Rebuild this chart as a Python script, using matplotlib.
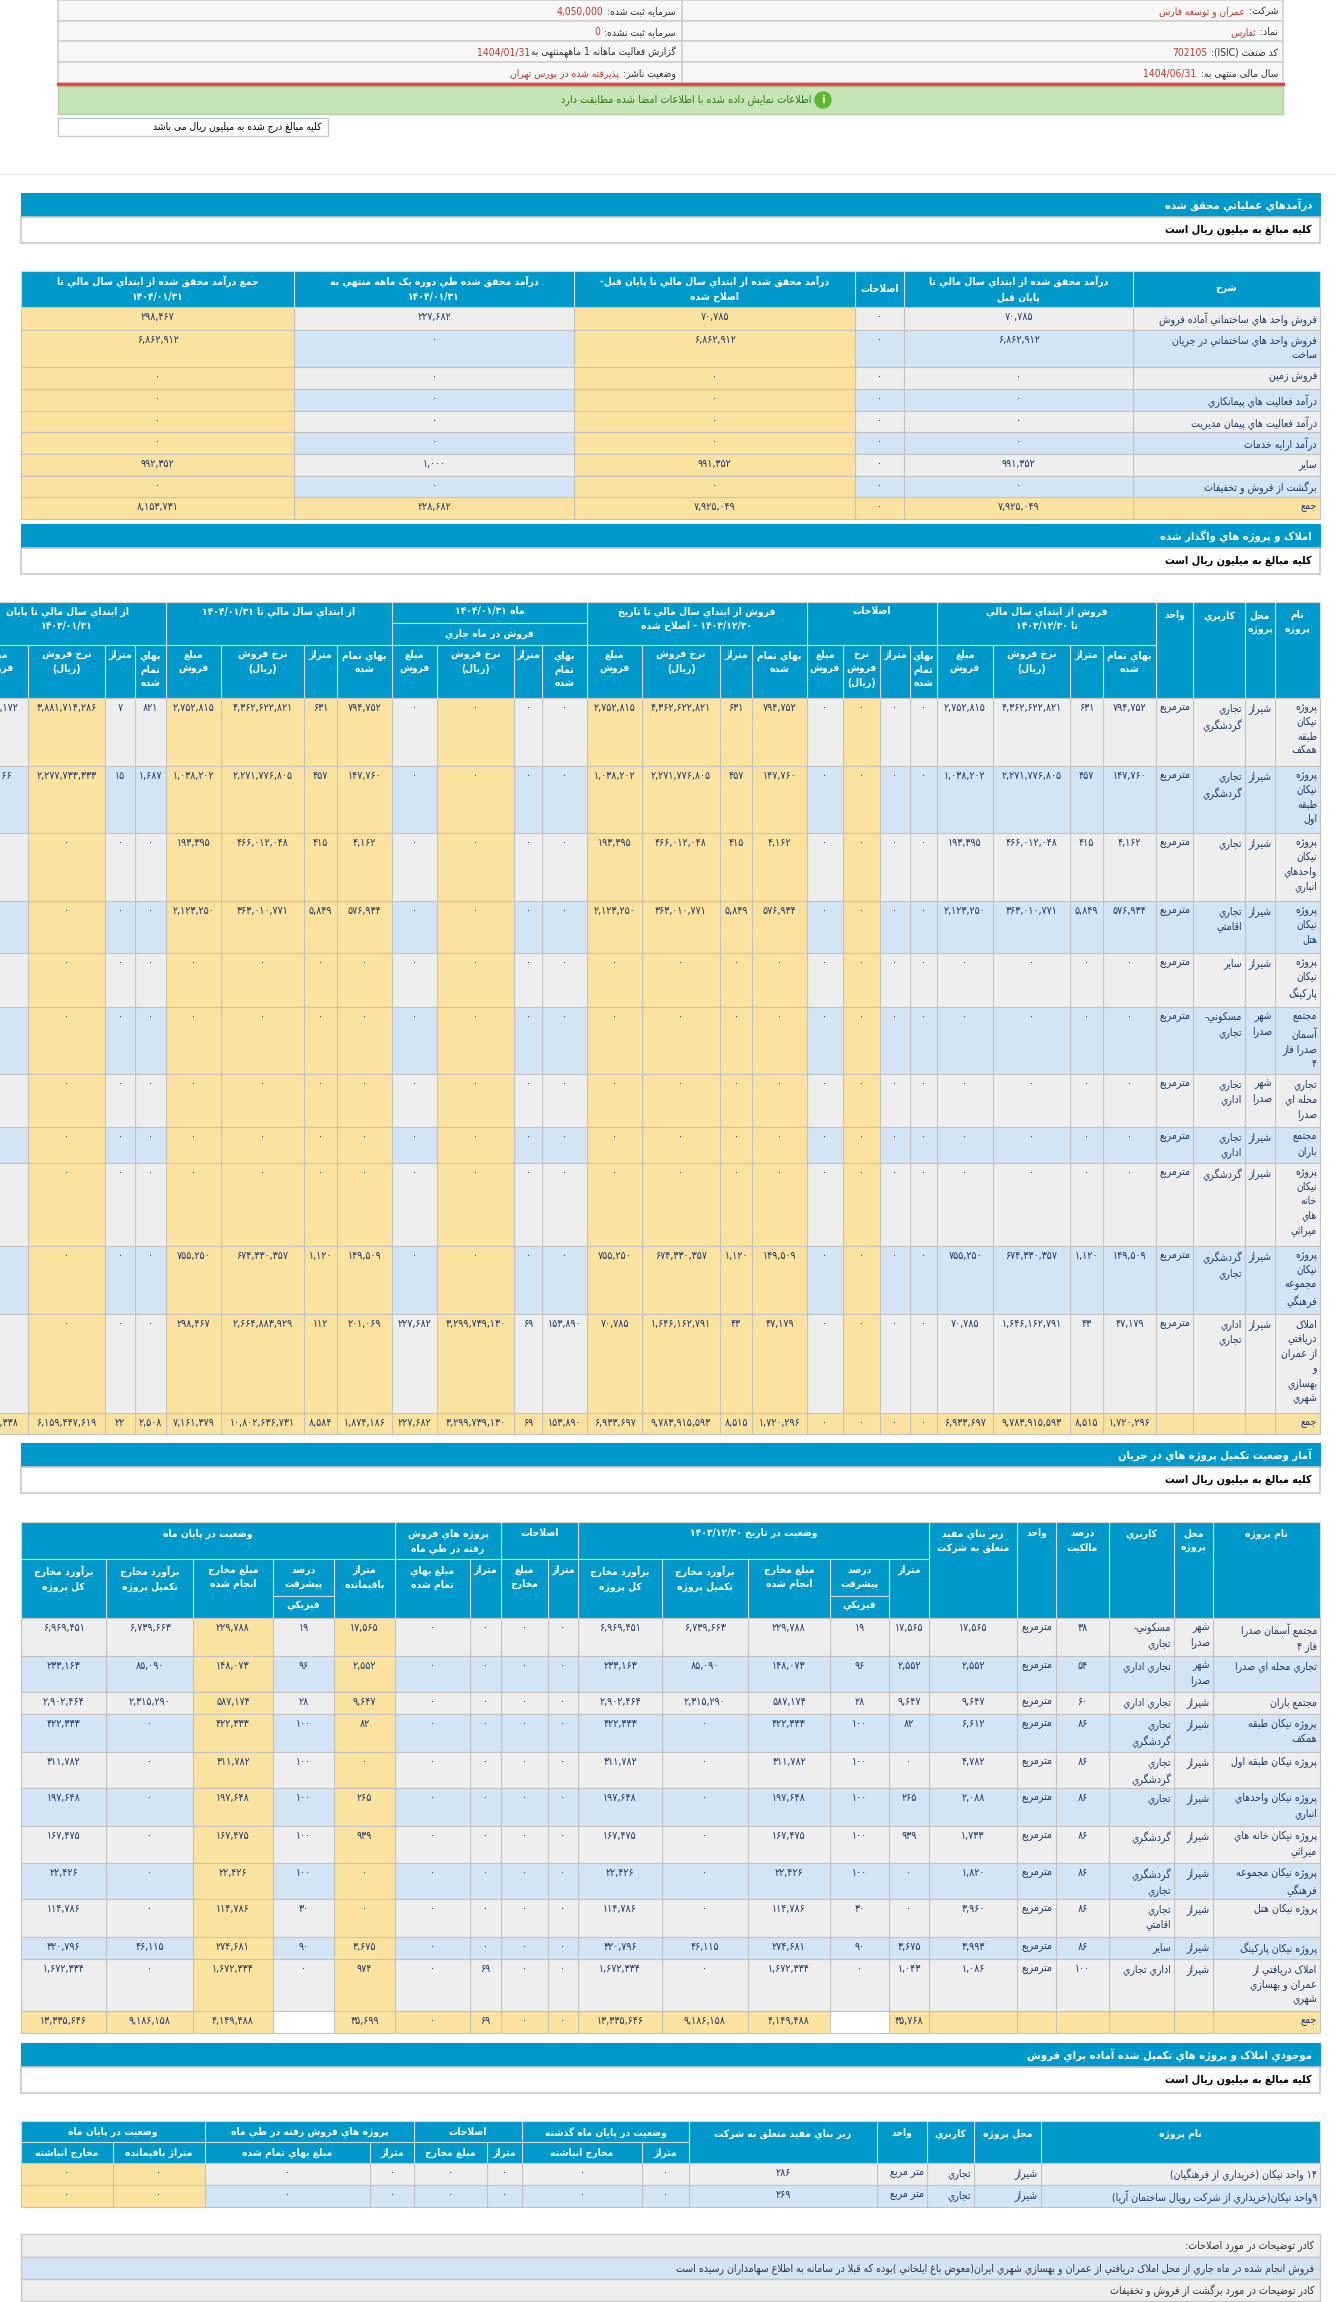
import matplotlib
matplotlib.use('Agg')
import matplotlib.pyplot as plt
from matplotlib.patches import Rectangle

plt.rcParams['font.family'] = ['DejaVu Sans']

# palette
C_BLUE = '#0099cc'
C_GREY = '#eeeeee'
C_LBLUE = '#d3e4f4'
C_YEL = '#fce29f'
C_EDGE = '#c4c4c4'
C_TXT = '#1d3a6e'
C_HDR = '#ffffff'

# ---------------- persian shaping (no arabic_reshaper available) ----------------
def _d(b):
    return (b, b + 1, b + 2, b + 3)

FORMS = {
    'ا': (0xFE8D, 0xFE8E), 'آ': (0xFE81, 0xFE82), 'أ': (0xFE83, 0xFE84),
    'ب': _d(0xFE8F), 'پ': _d(0xFB56), 'ت': _d(0xFE95), 'ث': _d(0xFE99),
    'ج': _d(0xFE9D), 'چ': _d(0xFB7A), 'ح': _d(0xFEA1), 'خ': _d(0xFEA5),
    'د': (0xFEA9, 0xFEAA), 'ذ': (0xFEAB, 0xFEAC), 'ر': (0xFEAD, 0xFEAE),
    'ز': (0xFEAF, 0xFEB0), 'ژ': (0xFB8A, 0xFB8B), 'س': _d(0xFEB1), 'ش': _d(0xFEB5),
    'ص': _d(0xFEB9), 'ض': _d(0xFEBD), 'ط': _d(0xFEC1), 'ظ': _d(0xFEC5),
    'ع': _d(0xFEC9), 'غ': _d(0xFECD), 'ف': _d(0xFED1), 'ق': _d(0xFED5),
    'ك': _d(0xFED9), 'ک': _d(0xFB8E), 'گ': _d(0xFB92), 'ل': _d(0xFEDD),
    'م': _d(0xFEE1), 'ن': _d(0xFEE5), 'ه': _d(0xFEE9), 'و': (0xFEED, 0xFEEE),
    'ي': _d(0xFEF1), 'ی': (0xFBFC, 0xFBFD, 0xFEF3, 0xFEF4), 'ئ': _d(0xFE89),
    'ة': (0xFE93, 0xFE94),
}
MIRROR = {'(': ')', ')': '('}


def shape_line(s):
    ch = list(s)
    n = len(ch)
    out = []
    i = 0
    while i < n:
        c = ch[i]
        if c not in FORMS:
            if c != '\u200c':
                out.append(c)
            i += 1
            continue
        prev = ch[i - 1] if i > 0 else None
        jp = prev in FORMS and len(FORMS[prev]) == 4
        if c == 'ل' and i + 1 < n and ch[i + 1] in ('ا', 'آ'):
            base = 0xFEFB if ch[i + 1] == 'ا' else 0xFEF5
            out.append(chr(base + 1 if jp else base))
            i += 2
            continue
        f = FORMS[c]
        nxt = ch[i + 1] if i + 1 < n else None
        jn = len(f) == 4 and nxt in FORMS
        if jp and jn:
            g = f[3]
        elif jp:
            g = f[1]
        elif jn:
            g = f[2]
        else:
            g = f[0]
        out.append(chr(g))
        i += 1
    s = ''.join(out)

    def strong(c):
        o = ord(c)
        if (c.isascii() and c.isalnum()) or 0x06F0 <= o <= 0x06F9:
            return 'L'
        if 0x0600 <= o <= 0x06FF or 0xFB50 <= o <= 0xFEFF:
            return 'R'
        return None

    kinds = [strong(c) for c in s]
    for k in range(len(s)):
        if kinds[k] is None:
            p = next((kinds[j] for j in range(k - 1, -1, -1) if strong(s[j])), None)
            q = next((kinds[j] for j in range(k + 1, len(s)) if strong(s[j])), None)
            kinds[k] = 'L' if (p == 'L' and q == 'L') else 'R'
    runs = []
    for c, k in zip(s, kinds):
        if runs and runs[-1][0] == k:
            runs[-1][1].append(c)
        else:
            runs.append([k, [c]])
    vis = []
    for k, cs in reversed(runs):
        if k == 'R':
            vis.append(''.join(MIRROR.get(c, c) for c in reversed(cs)))
        else:
            vis.append(''.join(cs))
    return ''.join(vis)


def fa(s, digits=True):
    if digits:
        s = s.translate(str.maketrans('0123456789', '۰۱۲۳۴۵۶۷۸۹'))
    return '\n'.join(shape_line(l) for l in s.split('\n'))


# ---------------- data ----------------
INFO_RIGHT = [('شرکت: ', 'عمران و توسعه فارس'), ('نماد: ', 'ثفارس'),
              ('کد صنعت (ISIC): ', '702105'), ('سال مالی منتهی به: ', '1404/06/31')]
INFO_LEFT = [('سرمایه ثبت شده: ', '4,050,000'), ('سرمایه ثبت نشده: ', '0'),
             ('گزارش فعالیت ماهانه 1 ماههمنتهی به', '1404/01/31'),
             ('وضعیت ناشر: ', 'پذیرفته شده در بورس تهران')]

T1_HEAD = ['شرح', 'درآمد محقق شده از ابتداي سال مالي تا\nپايان قبل', 'اصلاحات',
           'درآمد محقق شده از ابتداي سال مالي تا پايان قبل-\nاصلاح شده',
           'درآمد محقق شده طي دوره يک ماهه منتهي به\n1404/01/31',
           'جمع درآمد محقق شده از ابتداي سال مالي تا\n1404/01/31']
T1_LABELS = ['فروش واحد هاي ساختماني آماده فروش', 'فروش واحد هاي ساختماني در جريان\nساخت',
             'فروش زمين', 'درآمد فعاليت هاي پيمانکاري', 'درآمد فعاليت هاي پيمان مديريت',
             'درآمد ارايه خدمات', 'ساير', 'برگشت از فروش و تخفيفات', 'جمع']
T1_PREV = ['70,785', '6,862,912', '0', '0', '0', '0', '991,352', '0', '7,925,049']
T1_ADJ = ['0', '0', '0', '0', '0', '0', '0', '0', '0']
T1_PREV_ADJ = ['70,785', '6,862,912', '0', '0', '0', '0', '991,352', '0', '7,925,049']
T1_MONTH = ['227,682', '0', '0', '0', '0', '0', '1,000', '0', '228,682']
T1_TOTAL = ['298,467', '6,862,912', '0', '0', '0', '0', '992,352', '0', '8,153,731']

T2_NAMES = ['پروژه\nنیکان\nطبقه\nهمکف', 'پروژه\nنیکان\nطبقه\nاول', 'پروژه\nنیکان\nواحدهاي\nانباري',
            'پروژه\nنیکان\nهتل', 'پروژه\nنیکان\nپارکینگ', 'مجتمع\nآسمان\nصدرا فاز\n4',
            'تجاري\nمحله اي\nصدرا', 'مجتمع\nباران', 'پروژه\nنیکان\nخانه\nهاي\nمیراثي',
            'پروژه\nنیکان\nمجموعه\nفرهنگي', 'املاک\nدریافتي\nاز عمران\nو\nبهسازي\nشهري', 'جمع']
T2_LOC = ['شیراز', 'شیراز', 'شیراز', 'شیراز', 'شیراز', 'شهر\nصدرا', 'شهر\nصدرا', 'شیراز',
          'شیراز', 'شیراز', 'شیراز', '']
T2_USE = ['تجاري\nگردشگري', 'تجاري\nگردشگري', 'تجاري', 'تجاري\nاقامتي', 'سایر',
          'مسکوني-\nتجاري', 'تجاري\nاداري', 'تجاري\nاداري', 'گردشگري', 'گردشگري\nتجاري',
          'اداري\nتجاري', '']
T2_UNIT = ['مترمربع'] * 11 + ['']
Z4 = ['0', '0', '0', '0']
# each group: cost, area, rate, amount
T2_YEAR = [['794,752', '631', '4,362,622,821', '2,752,815'],
           ['147,760', '457', '2,271,776,805', '1,038,202'],
           ['4,162', '415', '466,012,048', '193,395'],
           ['576,934', '5,849', '363,010,771', '2,123,250'],
           Z4, Z4, Z4, Z4, Z4,
           ['149,509', '1,120', '674,330,357', '755,250'],
           ['47,179', '43', '1,646,162,791', '70,785'],
           ['1,720,296', '8,515', '9,783,915,593', '6,933,697']]
T2_ADJ = [Z4] * 12
T2_YEAR_ADJ = T2_YEAR
T2_MONTH = [Z4] * 10 + [['153,890', '69', '3,299,739,130', '227,682'],
                        ['153,890', '69', '3,299,739,130', '227,682']]
T2_YTD = [['794,752', '631', '4,362,622,821', '2,752,815'],
          ['147,760', '457', '2,271,776,805', '1,038,202'],
          ['4,162', '415', '466,012,048', '193,395'],
          ['576,934', '5,849', '363,010,771', '2,123,250'],
          Z4, Z4, Z4, Z4, Z4,
          ['149,509', '1,120', '674,330,357', '755,250'],
          ['201,069', '112', '2,664,883,929', '298,467'],
          ['1,874,186', '8,584', '10,802,636,731', '7,161,379']]
T2_PREVYEAR = [['821', '7', '3,881,714,286', '2,717,172'],
               ['1,687', '15', '2,277,733,333', '34,166'],
               Z4, Z4, Z4, Z4, Z4, Z4, Z4, Z4, Z4,
               ['2,508', '22', '6,159,447,619', '2,751,338']]

T3_NAMES = ['مجتمع آسمان صدرا\nفاز 4', 'تجاري محله اي صدرا', 'مجتمع باران',
            'پروژه نیکان طبقه\nهمکف', 'پروژه نیکان طبقه اول', 'پروژه نیکان واحدهاي\nانباري',
            'پروژه نیکان خانه هاي\nمیراثي', 'پروژه نیکان مجموعه\nفرهنگي', 'پروژه نیکان هتل',
            'پروژه نیکان پارکینگ', 'املاک دریافتي از\nعمران و بهسازي\nشهري', 'جمع']
T3_LOC = ['شهر\nصدرا', 'شهر\nصدرا'] + ['شیراز'] * 9 + ['']
T3_USE = ['مسکوني-\nتجاري', 'تجاري اداري', 'تجاري اداري', 'تجاري\nگردشگري', 'تجاري\nگردشگري',
          'تجاري', 'گردشگري', 'گردشگري\nتجاري', 'تجاري\nاقامتي', 'سایر', 'اداري تجاري', '']
T3_OWN = ['38', '54', '60', '86', '86', '86', '86', '86', '86', '86', '100', '']
T3_UNIT = ['مترمربع'] * 11 + ['']
T3_GFA = ['17,565', '2,552', '9,647', '6,612', '4,782', '2,088', '1,733', '1,820', '3,960',
          '3,993', '1,086', '']
# area, progress %, spent, to complete, total estimate
T3_START = [['17,565', '19', '229,788', '6,739,663', '6,969,451'],
            ['2,552', '96', '148,073', '85,090', '233,163'],
            ['9,647', '28', '587,174', '2,315,290', '2,902,464'],
            ['82', '100', '422,333', '0', '422,333'],
            ['0', '100', '311,782', '0', '311,782'],
            ['265', '100', '197,648', '0', '197,648'],
            ['939', '100', '167,475', '0', '167,475'],
            ['0', '100', '22,426', '0', '22,426'],
            ['0', '30', '114,786', '0', '114,786'],
            ['3,675', '90', '274,681', '46,115', '320,796'],
            ['1,043', '0', '1,672,334', '0', '1,672,334'],
            ['35,768', '', '4,149,488', '9,186,158', '13,335,646']]
T3_ADJ = [['0', '0']] * 12
T3_SOLD = [['0', '0']] * 10 + [['69', '0'], ['69', '0']]
T3_END = [['17,565', '19', '229,788', '6,739,663', '6,969,451'],
          ['2,552', '96', '148,073', '85,090', '233,163'],
          ['9,647', '28', '587,174', '2,315,290', '2,902,464'],
          ['82', '100', '422,333', '0', '422,333'],
          ['0', '100', '311,782', '0', '311,782'],
          ['265', '100', '197,648', '0', '197,648'],
          ['939', '100', '167,475', '0', '167,475'],
          ['0', '100', '22,426', '0', '22,426'],
          ['0', '30', '114,786', '0', '114,786'],
          ['3,675', '90', '274,681', '46,115', '320,796'],
          ['974', '0', '1,672,334', '0', '1,672,334'],
          ['35,699', '', '4,149,488', '9,186,158', '13,335,646']]

T4_NAMES = ['14 واحد نیکان (خریداري از فرهنگیان)', '9واحد نیکان(خریداري از شرکت رویال ساختمان آریا)']
T4_LOC = ['شیراز', 'شیراز']
T4_USE = ['تجاري', 'تجاري']
T4_UNIT = ['متر مربع', 'متر مربع']
T4_GFA = ['286', '269']
T4_REST = [['0'] * 8, ['0'] * 8]

NOTES = ['کادر توضیحات در مورد اصلاحات:',
         'فروش انجام شده در ماه جاري از محل املاک دریافتي از عمران و بهسازي شهري ایران(معوض باغ ایلخاني )بوده که قبلا در سامانه به اطلاع سهامداران رسیده است',
         'کادر توضیحات در مورد برگشت از فروش و تخفیفات']

# ---------------- drawing helpers ----------------
W, H = 1336, 2302
fig = plt.figure(figsize=(W / 100, H / 100), dpi=100)
ax = fig.add_axes([0, 0, 1, 1])
ax.set_xlim(0, W)
ax.set_ylim(H, 0)
ax.axis('off')
FS = 7.6


def box(x0, y0, x1, y1, fc, ec=C_EDGE, lw=0.8):
    ax.add_patch(Rectangle((min(x0, x1), y0), abs(x1 - x0), y1 - y0, facecolor=fc,
                           edgecolor=ec, linewidth=lw))


def text(x, y, s, ha='center', va='top', color=C_TXT, size=FS, weight='normal', digits=True):
    return ax.text(x, y, fa(s, digits), ha=ha, va=va, color=color, fontsize=size,
                   fontweight=weight, multialignment=ha if ha != 'center' else 'center',
                   linespacing=1.5, fontstretch='condensed', clip_on=True)


def htext(x, y, s, va='top'):
    return text(x, y, s, va=va, color=C_HDR, weight='bold', size=7.4)


def section(y0, title):
    box(21, y0, 1320, y0 + 24, C_BLUE, ec=C_BLUE)
    text(1312, y0 + 12, title, ha='right', va='center', color='white', size=8, weight='bold')
    box(21, y0 + 24, 1320, y0 + 50, 'white', ec='#c8c8c8', lw=1.2)
    text(1312, y0 + 37, 'کلیه مبالغ به میلیون ریال است', ha='right', va='center',
         color='black', size=7.8, weight='bold')


def body(xs, ys, rows, fillfn, name_cols=(0,)):
    for r, cells in enumerate(rows):
        y0, y1 = ys[r], ys[r + 1]
        for c, v in enumerate(cells):
            xr, xl = xs[c], xs[c + 1]
            box(xl, y0, xr, y1, fillfn(r, c))
            if v == '':
                continue
            if c in name_cols:
                text(xr - 3, y0 + 5, v, ha='right')
            else:
                text((xl + xr) / 2, y0 + 5, v)


# ---------------- info block ----------------
INFO_Y = [0, 21, 41, 62, 83]
renderer = fig.canvas.get_renderer()
for i in range(4):
    box(682, INFO_Y[i], 1283, INFO_Y[i + 1], '#f7f7f7', ec='#d0d0d0', lw=1.2)
    box(58, INFO_Y[i], 682, INFO_Y[i + 1], '#f7f7f7', ec='#d0d0d0', lw=1.2)
    for xr, (lab, val) in ((1278, INFO_RIGHT[i]), (676, INFO_LEFT[i])):
        ym = (INFO_Y[i] + INFO_Y[i + 1]) / 2 + 1
        t = text(xr, ym, lab, ha='right', va='center', color='#333333', size=7.4, digits=False)
        wpx = t.get_window_extent(renderer).width
        text(xr - wpx - 1, ym, val, ha='right', va='center', color='#c0392b', size=7.4,
             digits=False)
ax.plot([58, 1283], [84, 84], color='#e84545', lw=2.5)
box(58, 86, 1283, 114, '#c5e4b8', ec='#b0d29c', lw=1)
ax.add_patch(plt.Circle((823, 100), 8, color='#5cb82e'))
ax.text(823, 100, 'i', color='white', ha='center', va='center', fontsize=8, fontweight='bold')
text(811, 100, 'اطلاعات نمایش داده شده با اطلاعات امضا شده مطابقت دارد', ha='right',
     va='center', color='#2f7a17', size=7.8)
box(58, 118, 328, 136, 'white', ec='#c8c8c8', lw=1)
text(322, 127, 'کلیه مبالغ درج شده به میلیون ریال می باشد', ha='right', va='center',
     color='black', size=7.4)
ax.plot([0, W], [174, 174], color='#e6e6e6', lw=1)

# ---------------- table 1 ----------------
section(193, 'درآمدهاي عملياتي محقق شده')
T1_X = [1320, 1133, 904, 855, 574, 294, 21]
for c, h in enumerate(T1_HEAD):
    box(T1_X[c + 1], 271, T1_X[c], 307, C_BLUE, ec='#d8d8d8')
    htext((T1_X[c] + T1_X[c + 1]) / 2, 289, h, va='center')
T1_Y = [307, 330, 367, 389, 411, 432, 454, 476, 497, 519]
rows1 = [list(r) for r in zip(T1_LABELS, T1_PREV, T1_ADJ, T1_PREV_ADJ, T1_MONTH, T1_TOTAL)]


def fill1(r, c):
    if r == 8 or c in (3, 5):
        return C_YEL
    return C_GREY if r % 2 == 0 else C_LBLUE


body(T1_X, T1_Y, rows1, fill1)

# ---------------- table 2 ----------------
section(524, 'املاک و پروژه هاي واگذار شده')
T2_X = [1320, 1275, 1245, 1193, 1156, 1103, 1070, 993, 937, 910, 880, 843, 807,
        752, 720, 642, 587, 542, 514, 437, 392, 337, 304, 221, 166, 135, 105, 28, -32]
for c, h in enumerate(['نام\nپروژه', 'محل\nپروژه', 'کاربري', 'واحد']):
    box(T2_X[c + 1], 602, T2_X[c], 698, C_BLUE, ec='#d8d8d8')
    htext((T2_X[c] + T2_X[c + 1]) / 2, 610, h)
G2 = ['فروش از ابتداي سال مالي\nتا 1403/12/30', 'اصلاحات',
      'فروش از ابتداي سال مالي تا تاريخ\n1403/12/30 - اصلاح شده', 'ماه 1404/01/31',
      'از ابتداي سال مالي تا 1404/01/31', 'از ابتداي سال مالي تا پايان\n1403/01/31']
SUB_WIDE = ['بهاي تمام\nشده', 'متراژ', 'نرخ فروش\n(ريال)', 'مبلغ\nفروش']
SUB_NARROW = ['بهاي\nتمام\nشده', 'متراژ', 'نرخ\nفروش\n(ريال)', 'مبلغ\nفروش']
for g, title in enumerate(G2):
    xr, xl = T2_X[4 + 4 * g], T2_X[8 + 4 * g]
    if g == 3:
        box(xl, 602, xr, 623, C_BLUE, ec='#d8d8d8')
        htext((xl + xr) / 2, 606, title)
        box(xl, 623, xr, 645, C_BLUE, ec='#d8d8d8')
        htext((xl + xr) / 2, 628, 'فروش در ماه جاري')
    else:
        box(xl, 602, xr, 645, C_BLUE, ec='#d8d8d8')
        htext((xl + xr) / 2, 606, title)
    subs = SUB_NARROW if g == 1 else SUB_WIDE
    for k in range(4):
        c = 4 + 4 * g + k
        lab = subs[k]
        if g in (3, 5) and k == 0:
            lab = 'بهاي\nتمام\nشده'
        box(T2_X[c + 1], 645, T2_X[c], 698, C_BLUE, ec='#d8d8d8')
        htext((T2_X[c] + T2_X[c + 1]) / 2, 650, lab)
T2_Y = [698, 766, 833, 901, 953, 1007, 1074, 1127, 1163, 1246, 1314, 1413, 1434]
rows2 = []
for i in range(12):
    rows2.append([T2_NAMES[i], T2_LOC[i], T2_USE[i], T2_UNIT[i]] + T2_YEAR[i] + T2_ADJ[i]
                 + T2_YEAR_ADJ[i] + T2_MONTH[i] + T2_YTD[i] + T2_PREVYEAR[i])


def fill2(r, c):
    if r == 11 or c in (10, 12, 13, 14, 15, 18, 20, 21, 22, 23, 26):
        return C_YEL
    return C_GREY if r % 2 == 0 else C_LBLUE


body(T2_X, T2_Y, rows2, fill2, name_cols=(0, 1, 2, 3))

# ---------------- table 3 ----------------
section(1443, 'آمار وضعيت تکميل پروژه هاي در جريان')
T3_X = [1320, 1213, 1174, 1109, 1056, 1017, 929, 889, 830, 748, 662, 578,
        548, 501, 470, 395, 334, 273, 193, 106, 21]
for c, h in enumerate(['نام پروژه', 'محل\nپروژه', 'کاربري', 'درصد\nمالکيت', 'واحد',
                       'زير بناي مفيد\nمتعلق به شرکت']):
    box(T3_X[c + 1], 1522, T3_X[c], 1618, C_BLUE, ec='#d8d8d8')
    htext((T3_X[c] + T3_X[c + 1]) / 2, 1528, h)
G3 = [(6, 11, 'وضعيت در تاريخ 1403/12/30'), (11, 13, 'اصلاحات'),
      (13, 15, 'پروژه هاي فروش\nرفته در طي ماه'), (15, 20, 'وضعيت در پايان ماه')]
for a, b, title in G3:
    box(T3_X[b], 1522, T3_X[a], 1559, C_BLUE, ec='#d8d8d8')
    htext((T3_X[a] + T3_X[b]) / 2, 1528, title)
S3 = {6: 'متراژ', 7: 'درصد\nپيشرفت', 8: 'مبلغ مخارج\nانجام شده', 9: 'برآورد مخارج\nتکميل پروژه',
      10: 'برآورد مخارج\nکل پروژه', 11: 'متراژ', 12: 'مبلغ\nمخارج', 13: 'متراژ',
      14: 'مبلغ بهاي\nتمام شده', 15: 'متراژ\nباقيمانده', 16: 'درصد\nپيشرفت',
      17: 'مبلغ مخارج\nانجام شده', 18: 'برآورد مخارج\nتکميل پروژه', 19: 'برآورد مخارج\nکل پروژه'}
for c, h in S3.items():
    if c in (7, 16):
        box(T3_X[c + 1], 1559, T3_X[c], 1596, C_BLUE, ec='#d8d8d8')
        box(T3_X[c + 1], 1596, T3_X[c], 1618, C_BLUE, ec='#d8d8d8')
        htext((T3_X[c] + T3_X[c + 1]) / 2, 1601, 'فيزيکي')
    else:
        box(T3_X[c + 1], 1559, T3_X[c], 1618, C_BLUE, ec='#d8d8d8')
    htext((T3_X[c] + T3_X[c + 1]) / 2, 1565, h)
T3_Y = [1618, 1656, 1692, 1714, 1752, 1788, 1826, 1863, 1899, 1937, 1959, 2011, 2033]
rows3 = []
for i in range(12):
    rows3.append([T3_NAMES[i], T3_LOC[i], T3_USE[i], T3_OWN[i], T3_UNIT[i], T3_GFA[i]]
                 + T3_START[i] + T3_ADJ[i] + T3_SOLD[i] + T3_END[i])


def fill3(r, c):
    if r == 11:
        return 'white' if c in (7, 16) else C_YEL
    if c in (15, 17):
        return C_YEL
    return C_GREY if r % 2 == 0 else C_LBLUE


body(T3_X, T3_Y, rows3, fill3, name_cols=(0, 1, 2, 4))

# ---------------- table 4 ----------------
section(2043, 'موجودي املاک و پروژه هاي تکميل شده آماده براي فروش')
T4_X = [1320, 1041, 974, 927, 877, 689, 642, 522, 487, 414, 370, 205, 113, 21]
for c, h in enumerate(['نام پروژه', 'محل پروژه', 'کاربري', 'واحد',
                       'زير بناي مفيد متعلق به شرکت']):
    box(T4_X[c + 1], 2121, T4_X[c], 2163, C_BLUE, ec='#d8d8d8')
    htext((T4_X[c] + T4_X[c + 1]) / 2, 2128, h)
G4 = [(5, 7, 'وضعيت در پايان ماه گذشته'), (7, 9, 'اصلاحات'),
      (9, 11, 'پروژه هاي فروش رفته در طي ماه'), (11, 13, 'وضعيت در پايان ماه')]
for a, b, title in G4:
    box(T4_X[b], 2121, T4_X[a], 2142, C_BLUE, ec='#d8d8d8')
    htext((T4_X[a] + T4_X[b]) / 2, 2132, title, va='center')
S4 = ['متراژ', 'مخارج انباشته', 'متراژ', 'مبلغ مخارج', 'متراژ', 'مبلغ بهاي تمام شده',
      'متراژ باقيمانده', 'مخارج انباشته']
for k, h in enumerate(S4):
    c = 5 + k
    box(T4_X[c + 1], 2142, T4_X[c], 2163, C_BLUE, ec='#d8d8d8')
    htext((T4_X[c] + T4_X[c + 1]) / 2, 2153, h, va='center')
T4_Y = [2163, 2185, 2207]
rows4 = [[T4_NAMES[i], T4_LOC[i], T4_USE[i], T4_UNIT[i], T4_GFA[i]] + T4_REST[i] for i in range(2)]


def fill4(r, c):
    if c in (11, 12):
        return C_YEL
    return C_GREY if r % 2 == 0 else C_LBLUE


body(T4_X, T4_Y, rows4, fill4, name_cols=(0, 1, 2, 3))

# ---------------- notes ----------------
NOTE_Y = [2234, 2257, 2279, 2301]
for i, s in enumerate(NOTES):
    box(21, NOTE_Y[i], 1320, NOTE_Y[i + 1], C_GREY if i != 1 else C_LBLUE, ec='#c8c8c8', lw=1)
    text(1314, (NOTE_Y[i] + NOTE_Y[i + 1]) / 2 + 1, s, ha='right', va='center', color='#333333')

fig.savefig('out.png', dpi=100, facecolor='white')
